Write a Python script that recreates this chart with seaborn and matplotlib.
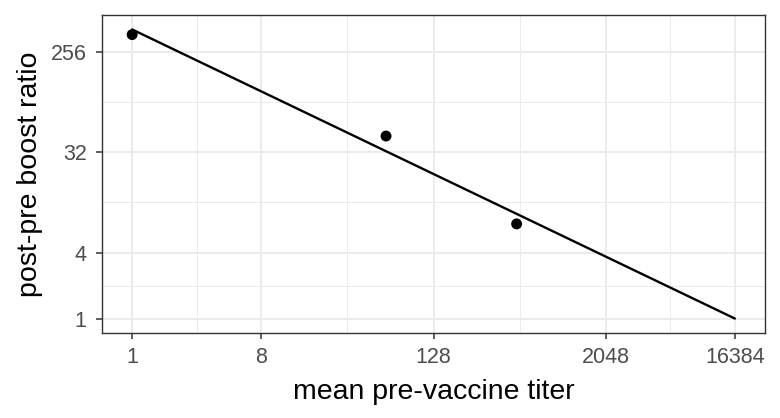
import numpy as np
import pandas as pd
import matplotlib
matplotlib.use("Agg")
import matplotlib.pyplot as plt
import seaborn as sns
from matplotlib.ticker import FixedLocator, NullFormatter

# data
titer = [1, 59.6, 488]
ratio = [367, 44.8, 7.25]
fit_range = [1, 16384]
x_ticks = [1, 8, 128, 2048, 16384]
y_ticks = [1, 4, 32, 256]

sns.set_theme(style="whitegrid")
plt.rcParams["font.family"] = ["Liberation Sans", "DejaVu Sans"]

fig = plt.figure(figsize=(7.8, 4.18), dpi=100)
ax = fig.add_axes([102 / 780, 1 - 333 / 418, (765 - 102) / 780, (333 - 15) / 418])

df = pd.DataFrame({"titer": titer, "ratio": ratio})
slope, intercept = np.polyfit(np.log2(titer), np.log2(ratio), 1)
fx = np.array(fit_range, dtype=float)
fit_df = pd.DataFrame({"titer": fx, "ratio": 2 ** (intercept + slope * np.log2(fx))})

sns.lineplot(data=fit_df, x="titer", y="ratio", color="black", lw=1.7, ax=ax, zorder=3)
sns.scatterplot(data=df, x="titer", y="ratio", color="black", s=62, edgecolor="none",
                ax=ax, zorder=4)

ax.set_xscale("log", base=2)
ax.set_yscale("log", base=2)

def expand(vals):
    lv = np.log2(vals)
    lo, hi = lv.min(), lv.max()
    r = hi - lo
    return 2 ** (lo - 0.05 * r), 2 ** (hi + 0.05 * r)

ax.set_xlim(*expand(np.concatenate([fx, titer])))
ax.set_ylim(*expand(np.concatenate([fit_df["ratio"].values, ratio])))

def minors(ticks):
    lt = np.log2(ticks)
    return list(2 ** ((lt[:-1] + lt[1:]) / 2))

ax.xaxis.set_major_locator(FixedLocator(x_ticks))
ax.yaxis.set_major_locator(FixedLocator(y_ticks))
ax.xaxis.set_minor_locator(FixedLocator(minors(x_ticks)))
ax.yaxis.set_minor_locator(FixedLocator(minors(y_ticks)))
ax.set_xticklabels([str(t) for t in x_ticks])
ax.set_yticklabels([str(t) for t in y_ticks])
ax.xaxis.set_minor_formatter(NullFormatter())
ax.yaxis.set_minor_formatter(NullFormatter())

ax.set_facecolor("white")
ax.grid(which="major", color="#EBEBEB", lw=1.4)
ax.grid(which="minor", color="#EBEBEB", lw=0.7)
ax.set_axisbelow(True)

ax.tick_params(which="major", length=4, width=1.1, color="#333333",
               labelsize=15.5, labelcolor="#4D4D4D", bottom=True, left=True)
ax.tick_params(axis="x", which="major", pad=6)
ax.tick_params(axis="y", which="major", pad=7)
ax.tick_params(which="minor", length=0)

for s in ax.spines.values():
    s.set_visible(True)
    s.set_color("#333333")
    s.set_linewidth(1.0)

ax.set_xlabel("mean pre-vaccine titer", fontsize=20.5, color="black", labelpad=8)
ax.set_ylabel("post-pre boost ratio", fontsize=20.5, color="black", labelpad=6)

fig.savefig("out.png", dpi=100)
